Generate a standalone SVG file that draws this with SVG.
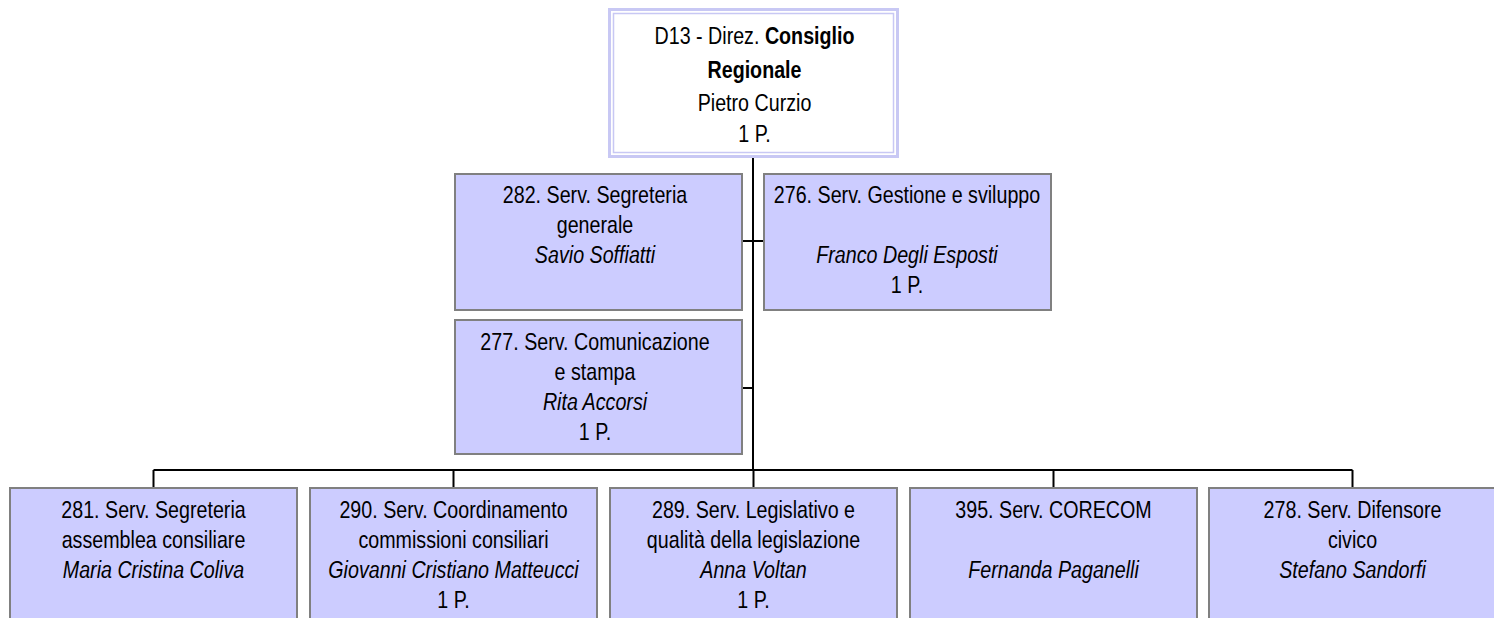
<svg xmlns="http://www.w3.org/2000/svg" width="1494" height="618" viewBox="0 0 1494 618">
<style>
.box{fill:#ccccff;stroke:#808080;stroke-width:2}
.top1{fill:#ffffff;stroke:#c8c8f4;stroke-width:3}
.top2{fill:none;stroke:#c8c8f4;stroke-width:1.5}
.conn{stroke:#000;stroke-width:2;fill:none}
text{font-family:"Liberation Sans",Arial,sans-serif;font-size:24px;fill:#000;text-anchor:middle}
.b{font-weight:bold}
.i{font-style:italic}
</style>
<rect width="1494" height="618" fill="#fff"/>
<g id="connectors">
<line class="conn" x1="753" y1="158" x2="753" y2="470"/>
<line class="conn" x1="742" y1="241" x2="764" y2="241"/>
<line class="conn" x1="742" y1="388" x2="753" y2="388"/>
<line class="conn" x1="153.5" y1="470" x2="1352.5" y2="470"/>
<line class="conn" x1="153.5" y1="470" x2="153.5" y2="487"/>
<line class="conn" x1="453.5" y1="470" x2="453.5" y2="487"/>
<line class="conn" x1="753.5" y1="470" x2="753.5" y2="487" stroke-width="1.2"/>
<line class="conn" x1="1053.5" y1="470" x2="1053.5" y2="487" stroke-width="1.2"/>
<line class="conn" x1="1352.5" y1="470" x2="1352.5" y2="487"/>
</g>
<g id="n-d13">
<rect class="top1" x="609.5" y="9.5" width="288" height="147"/>
<rect class="top2" x="613.5" y="13.5" width="280" height="139"/>
<g transform="translate(754.5 0) scale(0.82 1)">
<text x="0" y="44">D13 - Direz. <tspan class="b">Consiglio</tspan></text>
<text x="0" y="78" class="b">Regionale</text>
<text x="0" y="111">Pietro Curzio</text>
<text x="0" y="142">1 P.</text>
</g>
</g>
<g id="n-282">
<rect class="box" x="455" y="174" width="287" height="136"/>
<g transform="translate(595 0) scale(0.82 1)">
<text x="0" y="203">282. Serv. Segreteria</text>
<text x="0" y="233">generale</text>
<text x="0" y="263" class="i">Savio Soffiatti</text>
</g>
</g>
<g id="n-276">
<rect class="box" x="764" y="174" width="287" height="136"/>
<g transform="translate(907 0) scale(0.82 1)">
<text x="0" y="203">276. Serv. Gestione e sviluppo</text>
<text x="0" y="263" class="i">Franco Degli Esposti</text>
<text x="0" y="293">1 P.</text>
</g>
</g>
<g id="n-277">
<rect class="box" x="455" y="320" width="287" height="134"/>
<g transform="translate(595 0) scale(0.82 1)">
<text x="0" y="350">277. Serv. Comunicazione</text>
<text x="0" y="380">e stampa</text>
<text x="0" y="410" class="i">Rita Accorsi</text>
<text x="0" y="440">1 P.</text>
</g>
</g>
<g id="n-281">
<rect class="box" x="10" y="488" width="287" height="150"/>
<g transform="translate(153.5 0) scale(0.82 1)">
<text x="0" y="518">281. Serv. Segreteria</text>
<text x="0" y="548">assemblea consiliare</text>
<text x="0" y="578" class="i">Maria Cristina Coliva</text>
</g>
</g>
<g id="n-290">
<rect class="box" x="310" y="488" width="287" height="150"/>
<g transform="translate(453.5 0) scale(0.82 1)">
<text x="0" y="518">290. Serv. Coordinamento</text>
<text x="0" y="548">commissioni consiliari</text>
<text x="0" y="578" class="i">Giovanni Cristiano Matteucci</text>
<text x="0" y="608">1 P.</text>
</g>
</g>
<g id="n-289">
<rect class="box" x="610" y="488" width="287" height="150"/>
<g transform="translate(753.5 0) scale(0.82 1)">
<text x="0" y="518">289. Serv. Legislativo e</text>
<text x="0" y="548">qualità della legislazione</text>
<text x="0" y="578" class="i">Anna Voltan</text>
<text x="0" y="608">1 P.</text>
</g>
</g>
<g id="n-395">
<rect class="box" x="910" y="488" width="287" height="150"/>
<g transform="translate(1053.5 0) scale(0.82 1)">
<text x="0" y="518">395. Serv. CORECOM</text>
<text x="0" y="578" class="i">Fernanda Paganelli</text>
</g>
</g>
<g id="n-278">
<rect class="box" x="1209" y="488" width="287" height="150"/>
<g transform="translate(1352.5 0) scale(0.82 1)">
<text x="0" y="518">278. Serv. Difensore</text>
<text x="0" y="548">civico</text>
<text x="0" y="578" class="i">Stefano Sandorfi</text>
</g>
</g>
</svg>
